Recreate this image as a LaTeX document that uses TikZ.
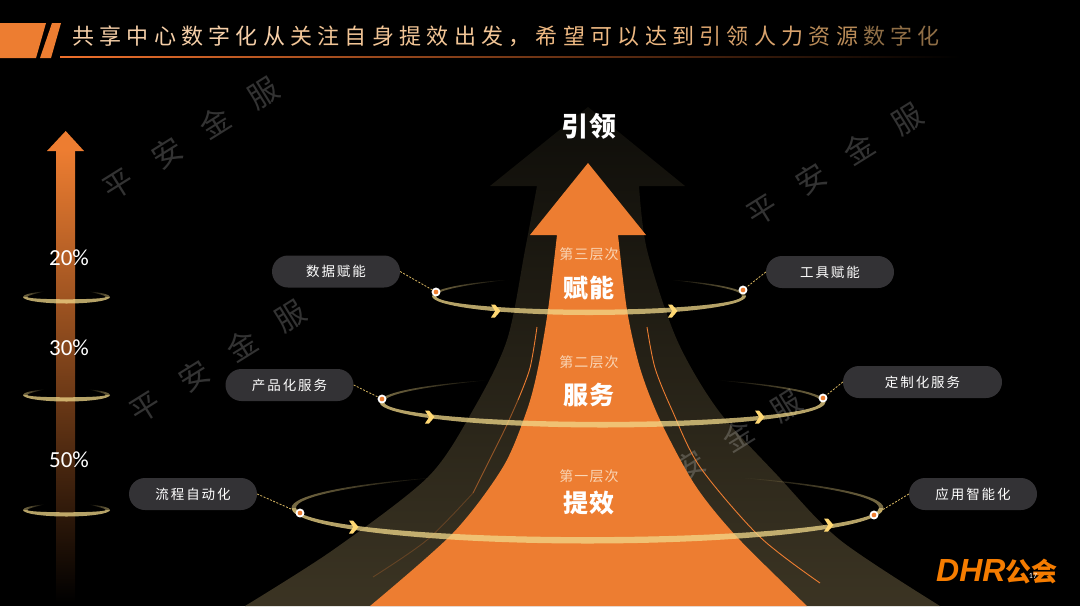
\documentclass[tikz,border=0pt]{standalone}
\usepackage{fontspec}
\usetikzlibrary{fadings,shapes.misc}
\newfontfamily\cjk{Noto Sans CJK SC}
\newfontfamily\numfont{Carlito}
\newfontfamily\logofont{Liberation Sans}
\newcommand{\fs}[1]{\fontsize{#1}{#1}\selectfont}
\newcommand{\titlegap}{\hspace{.24em}}
\definecolor{narancs}{HTML}{ED7D31}
\definecolor{arany}{HTML}{F2D98A}
\definecolor{nyilsarga}{HTML}{FFD873}
\definecolor{pirula}{HTML}{F9D5B5}
\definecolor{pillcol}{HTML}{333235}
\definecolor{logocol}{HTML}{F57C00}
\definecolor{savfelso}{HTML}{0E0D09}
\definecolor{savalso}{HTML}{3B3423}
\definecolor{oszlopkozep}{HTML}{7F6A5C}
\tikzfading[name=ringfadel,left color=transparent!0,right color=transparent!100]
\tikzfading[name=ringfader,left color=transparent!100,right color=transparent!0]
\tikzset{
  pill/.style={rounded rectangle,fill=pillcol,text=white!78,minimum width=128pt,minimum height=32pt,
    inner sep=0pt,font={\cjk\addfontfeature{LetterSpace=14}\fs{13.5}}},
  pont/.style={circle,draw=white,fill=narancs,line width=1.8pt,minimum size=7pt,inner sep=0pt},
  szagg/.style={dash pattern=on 2pt off 1.5pt,draw=nyilsarga!85!black,line width=.8pt},
  lvl/.style={text=pirula,font={\cjk\addfontfeature{LetterSpace=8}\fs{14}}},
  cim/.style={text=white,font={\cjk\bfseries\addfontfeature{LetterSpace=3}\fs{25}}},
  pct/.style={text=white,font={\numfont\fs{23}}},
  jel/.style={text=white,opacity=.2,rotate=32,font={\cjk\addfontfeature{LetterSpace=90}\fs{30}}},
  pics/ringband/.style n args={2}{code={
    \pgfmathsetmacro{\ix}{#1}
    \pgfmathsetmacro{\iy}{#2}
    \pgfmathsetmacro{\by}{(1+#2)/2}
    \fill[arany,opacity=.75] (-1,0) .. controls (-1,.5523) and (-.5523,1) .. (0,1)
      .. controls (.5523,1) and (1,.5523) .. (1,0) -- (\ix,0)
      .. controls (\ix,.5523*\iy) and (.5523,\iy) .. (0,\iy)
      .. controls (-.5523,\iy) and (-\ix,.5523*\iy) .. (-\ix,0) -- cycle;
    \fill[arany,opacity=.5,path fading=ringfadel] (-1,0) .. controls (-1,-.357) and (-.809,-.687) .. (-.5,-.866)
      .. controls (-.809*\ix,-.687*\by) and (-\ix,-.357*\by) .. (-\ix,0) -- cycle;
    \fill[arany,opacity=.5,path fading=ringfader] (1,0) .. controls (1,-.357) and (.809,-.687) .. (.5,-.866)
      .. controls (.809*\ix,-.687*\by) and (\ix,-.357*\by) .. (\ix,0) -- cycle;
  }},
  pics/chev/.style={code={
    \fill[nyilsarga] (-5,-6.5) -- (-1,-6.5) -- (4.5,0) -- (-1,6.5) -- (-5,6.5) -- (-.8,0) -- cycle;
  }},
}

\begin{document}
\begin{tikzpicture}[x=1pt,y=-1pt]
  \fill[black] (0,0) rectangle (1080,606);
  \useasboundingbox (0,0) rectangle (1080,606);

  % cimsor
  \fill[narancs] (0,23) -- (46,23) -- (36,58) -- (0,58) -- cycle;
  \fill[narancs] (52,23) -- (61,23) -- (51,58) -- (40,58) -- cycle;
  \shade[left color=narancs!90!red,right color=black] (60,56.4) rectangle (960,57.6);
  \node[anchor=west,inner sep=0pt,font={\cjk\addfontfeature{LetterSpace=24}\fs{22}}] (title) at (72,36)
    {\color[HTML]{F6CFA8}共享中心数字化从\titlegap\color[HTML]{F2C596}关注自身提效出发，\titlegap\color[HTML]{EDB882}希望可以达到\titlegap\color[HTML]{D8A26C}引领人力\titlegap\color[HTML]{B98B58}资源\titlegap\color[HTML]{8F6E46}数字化};

  % bal oldali nyil
  \shade[top color=narancs,middle color=oszlopkozep,bottom color=black] (56.5,150) rectangle (75,602);
  \fill[narancs] (65.7,131) -- (84,151) -- (47,151) -- cycle;
  \pic[xscale=43.5,yscale=6.5] at (66.5,297) {ringband={.9}{.35}};
  \pic[xscale=43.5,yscale=6.5] at (66.5,395) {ringband={.9}{.35}};
  \pic[xscale=43.5,yscale=6.5] at (66.5,510) {ringband={.9}{.35}};
  \node[pct] (p20) at (69,258) {20\%};
  \node[pct] (p30) at (69,348) {30\%};
  \node[pct] (p50) at (69,460) {50\%};

  % sotet nagy nyil
  \shade[top color=savfelso,bottom color=savalso] (588,107) -- (685,186) -- (639,186)
    -- plot[smooth] coordinates {(639,186) (647,250) (677,340) (718,410) (777,475) (840,540) (940,606)}
    -- plot[smooth] coordinates {(245,606) (333,550) (428,477) (473,410) (507,340) (525,250) (537,186)}
    -- (490,186) -- cycle;

  % vizjel
  \node[jel] (wm1) at (191,138) {平安金服};
  \node[jel] (wm2) at (218,361) {平安金服};
  \node[jel] (wm3) at (835,164) {平安金服};
  \node[jel] (wm4) at (714,451) {平安金服};

  % vekony vonalak
  \draw[narancs,line width=.9pt] plot[smooth] coordinates {(647,327) (655,368) (672,410) (700,467) (760,537) (820,583)};
  \draw[narancs,line width=.9pt] plot[smooth] coordinates {(537,327) (530,368) (518,400)};
  \draw[narancs,line width=.9pt,opacity=.55] plot[smooth] coordinates {(518,400) (503,433) (473,493)};
  \draw[narancs,line width=.9pt,opacity=.25] plot[smooth] coordinates {(473,493) (427,540) (373,577)};

  % narancs nyil
  \fill[narancs] (588,163) -- (646,235) -- (618,235)
    -- plot[smooth] coordinates {(618,235) (627,310) (640,368) (660,420) (695,485) (737,537) (807,606)}
    -- plot[smooth] coordinates {(370,606) (453,533) (503,467) (527,410) (538,368) (548,310) (557,235)}
    -- (530,235) -- cycle;

  % gyuruk
  \pic[xscale=157,yscale=19] at (589,296) {ringband={.975}{.72}};
  \pic[xscale=223,yscale=25.5] at (602.5,402) {ringband={.98}{.78}};
  \pic[xscale=296,yscale=35.5] at (587.5,508) {ringband={.985}{.82}};
  \pic at (496,311) {chev};
  \pic at (673,311) {chev};
  \pic at (430,417) {chev};
  \pic at (760,417) {chev};
  \pic at (354,527) {chev};
  \pic at (829,525) {chev};

  % szovegek
  \node[cim,font={\cjk\bfseries\addfontfeature{LetterSpace=6}\fs{27}}] (lead) at (589,126) {引领};
  \node[lvl] (l3) at (589,254) {第三层次};
  \node[cim] (t3) at (589,288) {赋能};
  \node[lvl] (l2) at (589,362) {第二层次};
  \node[cim] (t2) at (589,395) {服务};
  \node[lvl] (l1) at (589,476) {第一层次};
  \node[cim] (t1) at (589,503) {提效};

  % cimkek es pontok
  \node[pill] (a3) at (336,271.5) {数据赋能};
  \node[pill] (a2) at (289.5,385) {产品化服务};
  \node[pill] (a1) at (193,494) {流程自动化};
  \node[pill] (b3) at (830,272) {工具赋能};
  \node[pill,minimum width=159pt] (b2) at (922.5,382) {定制化服务};
  \node[pill] (b1) at (973,494) {应用智能化};
  \node[pont] (da3) at (436,292) {};
  \node[pont] (da2) at (382,399) {};
  \node[pont] (da1) at (300,513) {};
  \node[pont] (db3) at (743,290) {};
  \node[pont] (db2) at (823,398) {};
  \node[pont] (db1) at (874,515) {};
  \draw[szagg] (a3.east) -- (da3);
  \draw[szagg] (a2.east) -- (da2);
  \draw[szagg] (a1.east) -- (da1);
  \draw[szagg] (b3.west) -- (db3);
  \draw[szagg] (b2.west) -- (db2);
  \draw[szagg] (b1.west) -- (db1);

  % logo
  \node[anchor=base west,inner sep=0pt,text=logocol] (logo) at (936,581)
    {\logofont\bfseries\itshape\fs{32}DHR\cjk\upshape\fs{26}公会};
  \node[text=white!80,font={\numfont\fs{8}}] (page) at (1033,576) {17};
\end{tikzpicture}
\end{document}
